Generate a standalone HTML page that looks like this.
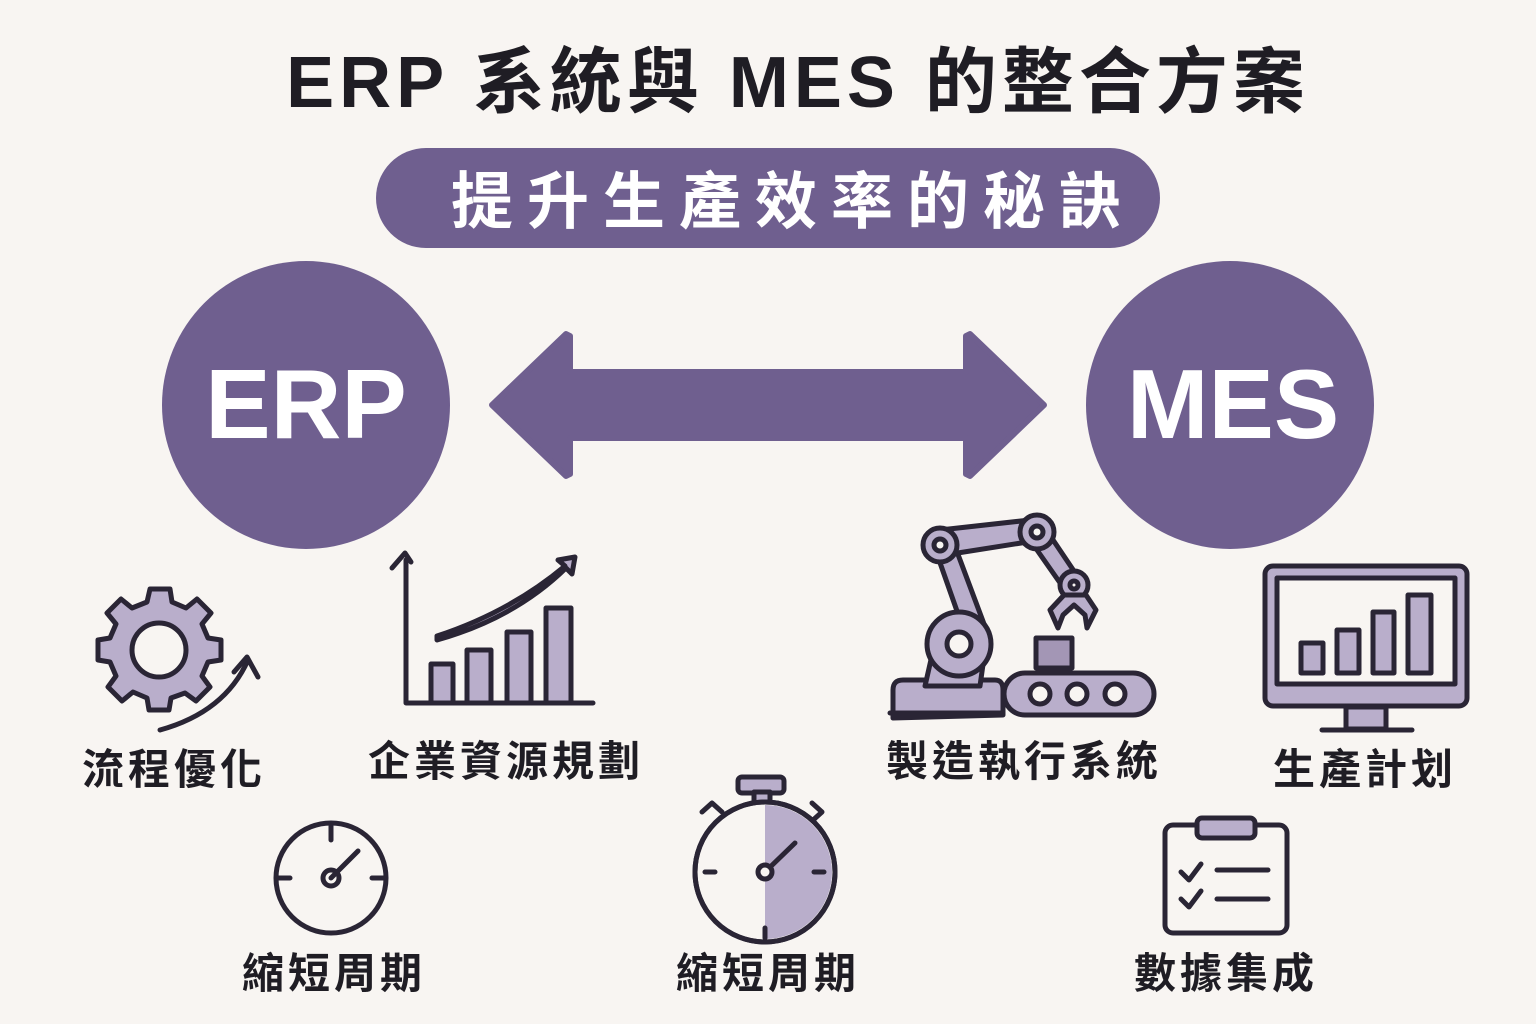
<!DOCTYPE html>
<html><head><meta charset="utf-8"><style>
body{margin:0;background:#f8f5f2;}
svg{display:block}
text{font-family:"Liberation Sans","Noto Sans CJK TC",sans-serif;font-weight:bold}
</style></head><body>
<svg width="1536" height="1024" viewBox="0 0 1536 1024" xmlns="http://www.w3.org/2000/svg">
<rect width="1536" height="1024" fill="#f8f5f2"/>
<text x="798" y="107" font-size="72" text-anchor="middle" fill="#1f1d24" letter-spacing="5">ERP 系統與 MES 的整合方案</text>
<rect x="376" y="148" width="784" height="100" rx="50" fill="#6f5f8f"/>
<text x="793" y="223" font-size="62" text-anchor="middle" fill="#fff" letter-spacing="14">提升生產效率的秘訣</text>
<circle cx="306" cy="405" r="144" fill="#6f5f8f"/>
<circle cx="1230" cy="405" r="144" fill="#6f5f8f"/>
<text x="306" y="438" font-size="98" text-anchor="middle" fill="#fff">ERP</text>
<text x="1233" y="438" font-size="98" text-anchor="middle" fill="#fff">MES</text>
<path d="M492 405 L566 334 L570 336 L570 372 L966 372 L966 336 L970 334 L1044 405 L970 476 L966 474 L966 438 L570 438 L570 474 L566 476 Z" fill="#6f5f8f" stroke="#6f5f8f" stroke-width="6" stroke-linejoin="round"/>
<g stroke="#2a2535" stroke-width="5" stroke-linejoin="round" stroke-linecap="round" fill="#b9aecb">
<g transform="translate(160,650)">
<path d="M-10 -57 L10 -57 L12 -44 L26 -38 L37 -47 L51 -33 L42 -22 L48 -8 L61 -6 L61 14 L48 16 L42 30 L50 41 L36 55 L25 47 L11 52 L9 64 L-11 64 L-13 52 L-27 46 L-38 55 L-52 41 L-44 30 L-50 16 L-62 14 L-62 -6 L-50 -8 L-44 -22 L-53 -33 L-39 -47 L-28 -38 L-13 -44 Z" transform="translate(0,-4)"/>
<circle cx="-1" cy="0" r="27" fill="#f8f5f2"/>
</g>
<path d="M160 730 Q225 712 248 660" fill="none"/>
<path d="M234 672 L247 657 L258 677" fill="none"/>
<path d="M406 560 L406 703 L593 703" fill="none"/>
<path d="M392 568 L405 553 L411 562" fill="none"/>
<rect x="431" y="664" width="22" height="39"/>
<rect x="467" y="650" width="24" height="53"/>
<rect x="507" y="632" width="24" height="71"/>
<rect x="546" y="608" width="25" height="95"/>
<path d="M437 636 Q510 612 565 566 L558 560 L575 557 L572 574 L566 568 Q515 618 437 640 Z"/>
<path d="M893 718 L893 690 Q893 680 903 680 L995 680 Q1003 680 1003 690 L1003 715 Z"/>
<path d="M925 686 L935 642 L960 610 L985 650 L980 686 Z"/>
<path d="M932 540 L950 533 L990 640 L970 648 Z"/>
<path d="M940 530 L1030 520 L1040 540 L945 555 Z"/>
<path d="M1030 540 L1045 528 L1080 580 L1065 590 Z"/>
<circle cx="940" cy="545" r="17"/><circle cx="940" cy="545" r="6" fill="#f8f5f2"/>
<circle cx="1037" cy="532" r="17"/><circle cx="1037" cy="532" r="6" fill="#f8f5f2"/>
<circle cx="1074" cy="585" r="14"/><circle cx="1074" cy="585" r="4" fill="#f8f5f2"/>
<circle cx="959" cy="644" r="32"/><circle cx="959" cy="644" r="12" fill="#f8f5f2"/>
<path d="M1064 595 L1050 610 L1058 628 L1063 615 L1074 605 L1085 615 L1087 628 L1096 610 L1086 595 Z"/>
<rect x="1036" y="638" width="36" height="30" fill="#a396b5"/>
<rect x="1004" y="673" width="150" height="42" rx="21"/>
<circle cx="1040" cy="694" r="10" fill="#f8f5f2"/><circle cx="1077" cy="694" r="10" fill="#f8f5f2"/><circle cx="1115" cy="694" r="10" fill="#f8f5f2"/>
<path d="M890 713 L1000 713" fill="none"/>
<rect x="1265" y="566" width="202" height="140" rx="8"/>
<rect x="1277" y="578" width="178" height="106" fill="#f8f5f2"/>
<rect x="1346" y="707" width="40" height="22"/>
<path d="M1322 730 L1412 730" fill="none"/>
<rect x="1301" y="643" width="22" height="30"/>
<rect x="1337" y="630" width="22" height="43"/>
<rect x="1373" y="612" width="21" height="61"/>
<rect x="1408" y="595" width="23" height="78"/>
<circle cx="331" cy="878" r="55" fill="none"/>
<path d="M331 826 L331 840 M278 878 L290 878 M372 878 L384 878" fill="none"/>
<path d="M331 878 L358 851" fill="none"/>
<circle cx="331" cy="878" r="8" fill="none"/>
<rect x="738" y="777" width="46" height="16" rx="4"/>
<rect x="754" y="792" width="16" height="14"/>
<path d="M702 812 L712 803 L722 812 M812 803 L822 812 L812 821" fill="none"/>
<circle cx="765" cy="872" r="70" fill="#f8f5f2"/>
<path d="M765 805 A67 67 0 0 1 765 939 Z" fill="#b9aecb" stroke="none"/>
<circle cx="765" cy="872" r="70" fill="none"/>
<path d="M765 872 L795 843" fill="none"/>
<circle cx="765" cy="872" r="7" fill="#f8f5f2"/>
<path d="M705 872 L715 872 M814 872 L824 872 M765 928 L765 938" fill="none"/>
<rect x="1165" y="825" width="122" height="108" rx="8" fill="#f8f5f2"/>
<rect x="1197" y="818" width="58" height="20" rx="5"/>
<path d="M1181 872 L1189 880 L1201 864 M1181 899 L1189 907 L1201 891" fill="none"/>
<path d="M1217 870 L1268 870 M1217 899 L1268 899" fill="none"/>
</g>
<g font-size="42" fill="#1f1d24" text-anchor="middle" letter-spacing="4">
<text x="174" y="784">流程優化</text>
<text x="506" y="776">企業資源規劃</text>
<text x="1024" y="776">製造執行系統</text>
<text x="1365" y="784">生產計划</text>
<text x="334" y="988">縮短周期</text>
<text x="768" y="988">縮短周期</text>
<text x="1226" y="988">數據集成</text>
</g>
</svg>
</body></html>
